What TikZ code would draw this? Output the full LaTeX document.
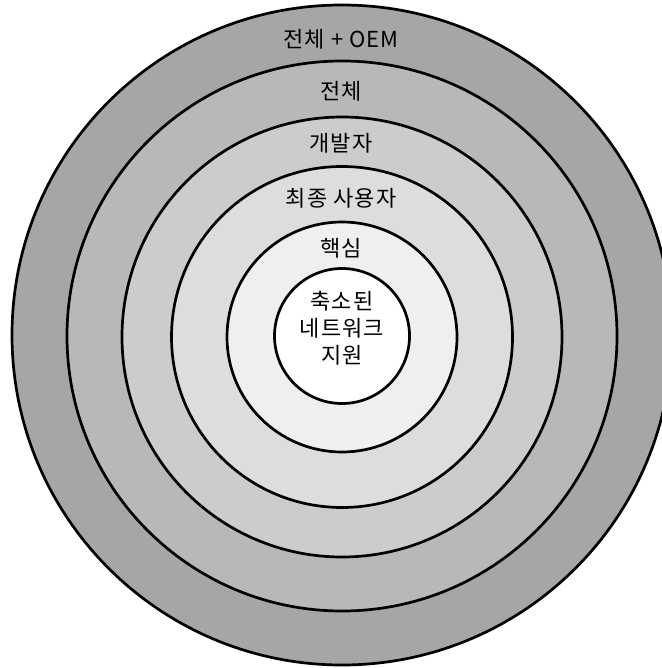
\documentclass[tikz,border=0pt]{standalone}
\usepackage{fontspec}
\setmainfont{Noto Sans CJK KR}[LetterSpace=5]
\definecolor{ringone}{RGB}{166,166,166}
\definecolor{ringtwo}{RGB}{184,184,184}
\definecolor{ringthree}{RGB}{204,204,204}
\definecolor{ringfour}{RGB}{221,221,221}
\definecolor{ringfive}{RGB}{239,239,239}
\tikzset{ring/.style={draw=black,line width=1.35pt},
  lbl/.style={font=\fontsize{11}{13.5}\selectfont,inner sep=0pt}}
\begin{document}
\begin{tikzpicture}[x=0.5pt,y=-0.5pt]
\useasboundingbox (0,0) rectangle (662,668);
\clip (0,0) rectangle (662,668);
\fill[white] (0,0) rectangle (662,668);
\draw[ring,fill=ringone] (342,335) circle[radius=165pt];
\draw[ring,fill=ringtwo] (342,336) circle[radius=137.5pt];
\draw[ring,fill=ringthree] (342,337) circle[radius=110pt];
\draw[ring,fill=ringfour] (342,337) circle[radius=85.25pt];
\draw[ring,fill=ringfive] (342,337) circle[radius=57.5pt];
\draw[ring,fill=white] (342,336) circle[radius=33.75pt];

\node[lbl] (oem) at (341,39) {전체 + OEM};
\node[lbl] (all) at (341,91) {전체};
\node[lbl] (dev) at (341,143) {개발자};
\node[lbl] (enduser) at (341,198) {최종 사용자};
\node[lbl] (core) at (341,248) {핵심};
\node[lbl,align=center] (reduced) at (342,328) {축소된\\네트워크\\지원};
\end{tikzpicture}
\end{document}
